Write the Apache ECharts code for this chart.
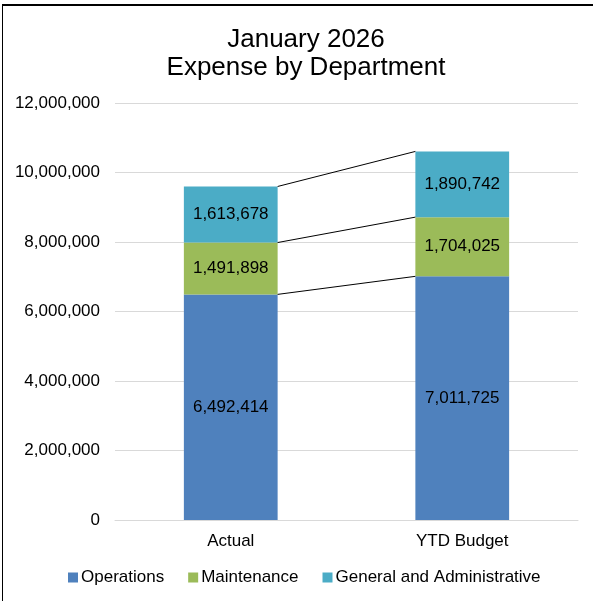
<!DOCTYPE html>
<html>
<head>
<meta charset="utf-8">
<script src="https://cdn.jsdelivr.net/npm/echarts@6/dist/echarts.min.js"></script>
<style>
html,body{margin:0;padding:0;background:#fff;overflow:hidden;}
#frame{position:absolute;left:2px;top:4px;width:640px;height:640px;border-left:1.5px solid #000;border-top:2px solid #000;box-sizing:border-box;}
#chart{position:absolute;left:0;top:0;width:593px;height:601px;}
</style>
</head>
<body>
<div id="frame"></div>
<div id="chart"></div>
<script>
const categories = ['Actual', 'YTD Budget'];
const operations = [6492414, 7011725];
const maintenance = [1491898, 1704025];
const generalAdmin = [1613678, 1890742];
const seriesNames = ['Operations', 'Maintenance', 'General and Administrative'];
const seriesColors = ['#4F81BD', '#9BBB59', '#4BACC6'];

const stacks = [operations, maintenance, generalAdmin];
// cumulative tops for series lines
const tops = [];
let acc = [0, 0];
stacks.forEach(s => { acc = [acc[0] + s[0], acc[1] + s[1]]; tops.push([0, acc[0], acc[1]]); });

const barFrac = 0.405;
const fmt = v => v.toLocaleString('en-US');
const font = 'Liberation Sans, Arial, sans-serif';

const chart = echarts.init(document.getElementById('chart'), null, {renderer: 'canvas'});
chart.setOption({
  animation: false,
  backgroundColor: 'transparent',
  title: {
    text: 'January 2026\nExpense by Department',
    left: 301, top: 21, textAlign: 'center',
    textStyle: {fontFamily: font, fontSize: 26, fontWeight: 'normal', color: '#000', lineHeight: 28}
  },
  legend: {
    bottom: 10, left: 63,
    itemWidth: 10, itemHeight: 10, itemGap: 24,
    icon: 'rect',
    textStyle: {fontFamily: font, fontSize: 17, color: '#000', padding: [0, 0, 0, -2]},
    data: seriesNames
  },
  grid: {left: 115, right: 15, top: 103, bottom: 81, containLabel: false},
  xAxis: {
    type: 'category', data: categories,
    axisLine: {show: true, lineStyle: {color: '#d9d9d9', width: 1}},
    axisTick: {show: false},
    axisLabel: {fontFamily: font, fontSize: 17, color: '#000', margin: 13}
  },
  yAxis: {
    type: 'value', min: 0, max: 12000000, interval: 2000000,
    axisLine: {show: false}, axisTick: {show: false},
    splitLine: {lineStyle: {color: '#d9d9d9', width: 1}},
    axisLabel: {fontFamily: font, fontSize: 17, color: '#000', margin: 15, formatter: v => fmt(v)}
  },
  series: stacks.map((s, i) => ({
    name: seriesNames[i], type: 'bar', stack: 'total',
    data: s, barWidth: (barFrac * 100) + '%',
    itemStyle: {color: seriesColors[i]},
    label: {show: true, position: 'inside', fontFamily: font, fontSize: 17, color: '#000', formatter: p => fmt(p.value)}
  })).concat([{
    type: 'custom', name: 'seriesLines', silent: true, z: 5,
    data: tops,
    renderItem: (params, api) => {
      const cw = api.size([1, 0])[0];
      const hb = cw * barFrac / 2;
      const p1 = api.coord([0, api.value(1)]);
      const p2 = api.coord([1, api.value(2)]);
      return {
        type: 'line',
        shape: {x1: p1[0] + hb, y1: p1[1], x2: p2[0] - hb, y2: p2[1]},
        style: {stroke: '#000', lineWidth: 1}
      };
    }
  }])
});
</script>
</body>
</html>
